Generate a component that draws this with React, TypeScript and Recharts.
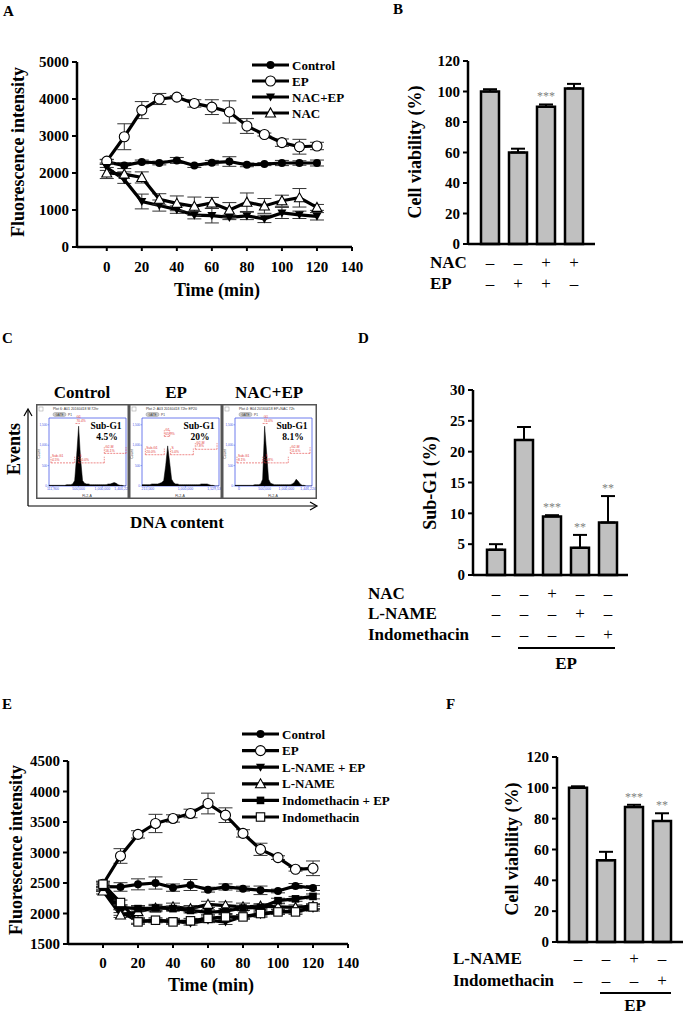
import React from 'react';
import {
  LineChart, Line, XAxis, YAxis, ErrorBar, BarChart, Bar, LabelList,
  AreaChart, Area, ReferenceLine, ReferenceArea,
} from 'recharts';

const SERIF = '"Liberation Serif", "Times New Roman", serif';

// ---------- A: fluorescence, NAC ----------
const timesA = [0, 10, 20, 30, 40, 50, 60, 70, 80, 90, 100, 110, 120];
const controlA = [2300, 2200, 2300, 2270, 2340, 2200, 2280, 2310, 2220, 2240, 2270, 2270, 2270];
const controlAErr = [60, 80, 50, 50, 80, 50, 60, 130, 50, 40, 70, 60, 80];
const epA = [2320, 2980, 3700, 4000, 4050, 3880, 3780, 3650, 3270, 3040, 2820, 2710, 2730];
const epAErr = [50, 350, 230, 150, 40, 100, 200, 300, 200, 40, 100, 200, 100];
const nacEpA = [2150, 1820, 1230, 1120, 1010, 860, 850, 800, 840, 760, 920, 870, 830];
const nacEpAErr = [80, 100, 200, 150, 100, 100, 200, 60, 100, 100, 150, 100, 100];
const nacA = [2000, 1970, 1880, 1290, 1180, 1100, 1190, 1000, 1210, 1110, 1250, 1330, 1070];
const nacAErr = [150, 60, 150, 150, 200, 250, 150, 200, 250, 200, 150, 250, 80];

// ---------- B: viability, NAC ----------
const viabB = [100, 60, 90, 102];
const viabBErr = [1.5, 2.5, 1.5, 3];
const sigB = ['', '', '***', ''];
const nacRowB = ['–', '–', '+', '+'];
const epRowB = ['–', '+', '+', '–'];

// ---------- C: cell-cycle histograms (relative counts per bin) ----------
const countsControl = [1, 1, 1, 1, 1, 1, 1, 1, 1, 2, 2, 2, 3, 8, 45, 88, 40, 8, 4, 3, 3, 2, 2, 2, 2, 2, 2, 2, 2, 2, 3, 3, 4, 5, 4, 2, 1, 1, 0, 0];
const countsEp = [2, 2, 2, 2, 2, 3, 3, 3, 3, 4, 5, 8, 30, 59, 35, 10, 5, 3, 3, 2, 2, 2, 2, 2, 2, 2, 2, 2, 2, 2, 3, 3, 3, 3, 2, 1, 1, 0, 0, 0];
const countsNacEp = [1, 1, 1, 1, 1, 1, 1, 1, 1, 1, 2, 2, 2, 3, 10, 88, 50, 10, 4, 3, 2, 2, 2, 2, 2, 2, 2, 2, 2, 3, 5, 10, 7, 3, 1, 1, 0, 0, 0, 0];
const gatesControl = [
  { name: 'Sub-G1', pct: '4.5%', x1: 1, x2: 13, y: 34 },
  { name: 'G1', pct: '70.4%', x1: 13.4, x2: 15.6, y: 92 },
  { name: 'S', pct: '10.0%', x1: 15, x2: 28, y: 34 },
  { name: 'G2-M', pct: '16.1%', x1: 28, x2: 39, y: 48 },
];
const gatesEp = [
  { name: 'Sub-G1', pct: '20.0%', x1: 1.7, x2: 11.3, y: 46 },
  { name: 'G1', pct: '65.9%', x1: 11.3, x2: 14, y: 73 },
  { name: 'S', pct: '5.0%', x1: 14.4, x2: 26, y: 46 },
  { name: 'G2-M', pct: '7.8%', x1: 27, x2: 38, y: 54 },
];
const gatesNacEp = [
  { name: 'Sub-G1', pct: '8.1%', x1: 1, x2: 14, y: 34 },
  { name: 'G1', pct: '74.0%', x1: 14, x2: 16.5, y: 92 },
  { name: 'S', pct: '4.8%', x1: 15, x2: 27, y: 34 },
  { name: 'G2-M', pct: '11.6%', x1: 28, x2: 38, y: 48 },
];
const facsTitles = ['Control', 'EP', 'NAC+EP'];
const facsSubG1 = ['4.5%', '20%', '8.1%'];
const facsHeaders = ['Plot 6: A01 20160418 M 72hr', 'Plot 2: A03 20160418 72hr EP20', 'Plot 4: B04 20160418 EP+NAC 72h'];
const facsTickPos = [[2, 15, 27, 37], [3, 22, 37], [2, 15, 26, 37]];
const facsTickLabels = [['111,900', '500,000', '1,000,000', '1,400,224'], ['215,000', '1,000,000', '1,529,536'], ['0', '500,000', '1,000,000', '1,446,224']];

// ---------- D: sub-G1 ----------
const subG1D = [4.1, 21.9, 9.5, 4.4, 8.5];
const subG1DErr = [0.9, 2.1, 0.2, 2.1, 4.3];
const sigD = ['', '', '***', '**', '**'];
const nacRowD = ['–', '–', '+', '–', '–'];
const lnameRowD = ['–', '–', '–', '+', '–'];
const indoRowD = ['–', '–', '–', '–', '+'];

// ---------- E: fluorescence, L-NAME / Indomethacin ----------
const timesE = [0, 10, 20, 30, 40, 50, 60, 70, 80, 90, 100, 110, 120];
const controlE = [2440, 2435, 2478, 2500, 2424, 2467, 2391, 2435, 2407, 2380, 2369, 2451, 2418];
const controlEErr = [60, 70, 90, 100, 60, 90, 40, 50, 40, 70, 30, 40, 40];
const epE = [2480, 2943, 3297, 3476, 3558, 3640, 3803, 3612, 3313, 3052, 2916, 2725, 2741];
const epEErr = [40, 120, 60, 150, 60, 70, 170, 120, 60, 100, 30, 30, 120];
const lnameEpE = [2400, 2020, 1880, 1880, 1880, 1840, 1890, 1860, 1950, 1980, 2030, 2040, 2080];
const lnameEpEErr = [40, 50, 40, 30, 40, 30, 40, 40, 30, 40, 40, 30, 40];
const lnameE = [2370, 1975, 2030, 2090, 2110, 2080, 2150, 2130, 2110, 2120, 2110, 2100, 2120];
const lnameEErr = [50, 40, 100, 60, 60, 50, 50, 60, 60, 40, 50, 40, 40];
const indoEpE = [2430, 2100, 2080, 2090, 2080, 2050, 2020, 2040, 2090, 2100, 2210, 2240, 2280];
const indoEpEErr = [40, 40, 40, 40, 40, 40, 40, 40, 40, 40, 40, 40, 40];
const indoE = [2480, 2180, 1862, 1890, 1862, 1880, 1920, 1944, 1944, 1999, 2026, 2026, 2108];
const indoEErr = [50, 40, 40, 40, 40, 40, 40, 40, 40, 40, 40, 40, 40];

// ---------- F: viability, L-NAME / Indomethacin ----------
const viabF = [100, 53, 87.5, 78.5];
const viabFErr = [1, 5.5, 1.5, 5];
const sigF = ['', '', '***', '**'];
const lnameRowF = ['–', '–', '+', '–'];
const indoRowF = ['–', '–', '–', '+'];

type Shape = 'circle' | 'openCircle' | 'triDown' | 'triUp' | 'square' | 'openSquare';

const seriesA: { key: string; name: string; shape: Shape }[] = [
  { key: 'control', name: 'Control', shape: 'circle' },
  { key: 'ep', name: 'EP', shape: 'openCircle' },
  { key: 'nacEp', name: 'NAC+EP', shape: 'triDown' },
  { key: 'nac', name: 'NAC', shape: 'triUp' },
];
const seriesE: { key: string; name: string; shape: Shape }[] = [
  { key: 'control', name: 'Control', shape: 'circle' },
  { key: 'ep', name: 'EP', shape: 'openCircle' },
  { key: 'lnameEp', name: 'L-NAME + EP', shape: 'triDown' },
  { key: 'lname', name: 'L-NAME', shape: 'triUp' },
  { key: 'indoEp', name: 'Indomethacin + EP', shape: 'square' },
  { key: 'indo', name: 'Indomethacin', shape: 'openSquare' },
];

const rowsA = timesA.map((t, i) => ({
  t,
  control: controlA[i], controlErr: controlAErr[i],
  ep: epA[i], epErr: epAErr[i],
  nacEp: nacEpA[i], nacEpErr: nacEpAErr[i],
  nac: nacA[i], nacErr: nacAErr[i],
}));
const rowsE = timesE.map((t, i) => ({
  t,
  control: controlE[i], controlErr: controlEErr[i],
  ep: epE[i], epErr: epEErr[i],
  lnameEp: lnameEpE[i], lnameEpErr: lnameEpEErr[i],
  lname: lnameE[i], lnameErr: lnameEErr[i],
  indoEp: indoEpE[i], indoEpErr: indoEpEErr[i],
  indo: indoE[i], indoErr: indoEErr[i],
}));
const rowsB = viabB.map((v, i) => ({ k: `b${i}`, v, e: [0, viabBErr[i]], sig: sigB[i] }));
const rowsD = subG1D.map((v, i) => ({ k: `d${i}`, v, e: [0, subG1DErr[i]], sig: sigD[i] }));
const rowsF = viabF.map((v, i) => ({ k: `f${i}`, v, e: [0, viabFErr[i]], sig: sigF[i] }));

const axisLine = { stroke: '#000', strokeWidth: 2.5 };
const tickLine = { stroke: '#000', strokeWidth: 2 };
const tickFont = { fill: '#000', fontSize: 15, fontWeight: 700, fontFamily: SERIF };

function Marker({ shape, cx, cy }: { shape: Shape; cx: number; cy: number }) {
  switch (shape) {
    case 'circle':
      return <circle cx={cx} cy={cy} r={4} fill="#000" />;
    case 'openCircle':
      return <circle cx={cx} cy={cy} r={5} fill="#fff" stroke="#000" strokeWidth={1.1} />;
    case 'triDown':
      return <polygon points={`${cx - 4.5},${cy - 3.5} ${cx + 4.5},${cy - 3.5} ${cx},${cy + 4.5}`} fill="#000" />;
    case 'triUp':
      return <polygon points={`${cx - 5},${cy + 4} ${cx + 5},${cy + 4} ${cx},${cy - 5}`} fill="#fff" stroke="#000" strokeWidth={1.1} />;
    case 'square':
      return <rect x={cx - 3.8} y={cy - 3.8} width={7.6} height={7.6} fill="#000" />;
    default:
      return <rect x={cx - 4.2} y={cy - 4.2} width={8.4} height={8.4} fill="#fff" stroke="#000" strokeWidth={1.1} />;
  }
}

function Txt({ x, y, children, size = 17, weight = 700, anchor = 'middle', rotate = false, fill = '#000' }: any) {
  return (
    <text
      x={x} y={y} fontSize={size} fontWeight={weight} fontFamily={SERIF} fill={fill}
      textAnchor={anchor} dominantBaseline="central"
      transform={rotate ? `rotate(-90 ${x} ${y})` : undefined}
    >
      {children}
    </text>
  );
}

function LineLegend({ x, y, gap, series }: { x: number; y: number; gap: number; series: { name: string; shape: Shape }[] }) {
  return (
    <g>
      {series.map((s, i) => (
        <g key={s.name}>
          <line x1={x} x2={x + 37} y1={y + i * gap} y2={y + i * gap} stroke="#000" strokeWidth={3.2} />
          <Marker shape={s.shape} cx={x + 18.5} cy={y + i * gap} />
          <Txt x={x + 40} y={y + i * gap} size={13} anchor="start">{s.name}</Txt>
        </g>
      ))}
    </g>
  );
}

function TimeCourse({ rows, series, yDomain, yTicks, width, height, margin, xDomain, tickMargin }: any) {
  return (
    <LineChart width={width} height={height} data={rows} margin={margin}>
      <XAxis
        dataKey="t" type="number" domain={xDomain} allowDataOverflow
        ticks={[0, 20, 40, 60, 80, 100, 120, 140]} interval={0}
        axisLine={axisLine} tickLine={tickLine} tickSize={4} tickMargin={tickMargin}
        tick={tickFont} height={45}
      />
      <YAxis
        domain={yDomain} ticks={yTicks} interval={0} allowDataOverflow
        axisLine={axisLine} tickLine={tickLine} tickSize={5} tickMargin={3}
        tick={tickFont} width={50}
      />
      {series.map((s: any) => (
        <Line
          key={s.key} dataKey={s.key} type="linear" stroke="#000" strokeWidth={3.2}
          isAnimationActive={false}
          dot={(p: any) => <Marker key={`${s.key}-${p.index}`} shape={s.shape} cx={p.cx} cy={p.cy} />}
        >
          <ErrorBar dataKey={`${s.key}Err`} width={7} strokeWidth={1} stroke="#333" direction="y" />
        </Line>
      ))}
    </LineChart>
  );
}

function makeStars(vals: number[], errs: number[]) {
  return (props: any) => {
    const { x, y, width, height, index, value } = props;
    if (!value) return null;
    const pxPerUnit = height / vals[index];
    const top = y - errs[index] * pxPerUnit;
    return (
      <text x={x + width / 2} y={top - 4} textAnchor="middle" fontSize={12} fill="#808080" fontFamily={SERIF}>
        {value}
      </text>
    );
  };
}

function makeTreatmentTick(rowsSyms: string[][], offsets: number[], group?: any) {
  return (props: any) => {
    const { x, y, index } = props;
    const els: any[] = [];
    rowsSyms.forEach((syms, r) => {
      els.push(
        <text key={`r${r}`} x={x} y={y + offsets[r]} textAnchor="middle" dominantBaseline="central"
          fontSize={17} fontFamily={SERIF} fill="#000">{syms[index]}</text>
      );
    });
    if (group && index >= group.from && index <= group.to) {
      const x1 = index === group.from ? x - group.startTrim : x - 14;
      const x2 = index === group.to ? x + group.endTrim : x + 14;
      els.push(<line key="gl" x1={x1} x2={x2} y1={y + group.lineDy} y2={y + group.lineDy} stroke="#000" strokeWidth={2} />);
      if (index === group.labelIndex) {
        els.push(
          <text key="gt" x={x + group.labelShift} y={y + group.labelDy} textAnchor="middle" dominantBaseline="central"
            fontSize={17} fontWeight={700} fontFamily={SERIF} fill="#000">EP</text>
        );
      }
    }
    return <g>{els}</g>;
  };
}

function BarPanel({ rows, vals, errs, width, height, margin, yDomain, yTicks, xHeight, padding, tick }: any) {
  return (
    <BarChart width={width} height={height} data={rows} margin={margin} barSize={18}>
      <XAxis
        dataKey="k" interval={0} axisLine={axisLine} tickLine={false} tickSize={0} tickMargin={0}
        height={xHeight} padding={padding} tick={tick}
      />
      <YAxis
        domain={yDomain} ticks={yTicks} interval={0} axisLine={axisLine} tickLine={tickLine}
        tickSize={5} tickMargin={3} tick={tickFont} width={36}
      />
      <Bar dataKey="v" fill="#c0c0c0" stroke="#000" strokeWidth={2.5} isAnimationActive={false}>
        <ErrorBar dataKey="e" width={7} strokeWidth={2} stroke="#000" direction="y" />
        <LabelList dataKey="sig" content={makeStars(vals, errs)} />
      </Bar>
    </BarChart>
  );
}

function FacsBox({ idx, left, width, counts, gates }: any) {
  const top = 404;
  const height = 95;
  const data = counts.map((c: number, b: number) => ({ b, c }));
  const tickPos = facsTickPos[idx];
  const tickLabels = facsTickLabels[idx];
  const blue = '#4a5ae8';
  const red = '#e23a3a';
  return (
    <div style={{ position: 'absolute', left, top, width, height, background: '#fff' }}>
      <AreaChart width={width} height={height} data={data} margin={{ top: 14, left: 7, right: width - 90, bottom: 7 }}>
        <XAxis
          dataKey="b" type="number" domain={[0, 39]} ticks={tickPos} interval={0}
          tickFormatter={(v: number) => tickLabels[tickPos.indexOf(v)]}
          axisLine={false} tickLine={{ stroke: blue, strokeWidth: 0.5 }} tickSize={1.5} tickMargin={0.5}
          tick={{ fontSize: 3.5, fill: blue, fontFamily: 'Arial, sans-serif' }} height={6}
        />
        <YAxis
          domain={[0, 100]} ticks={[0, 30, 60, 90]} interval={0} allowDataOverflow
          tickFormatter={(v: number) => ['0', '500', '1,000', '1,500'][[0, 30, 60, 90].indexOf(v)]}
          axisLine={false} tickLine={{ stroke: blue, strokeWidth: 0.5 }} tickSize={1.5} tickMargin={0.5}
          tick={{ fontSize: 3, fill: blue, fontFamily: 'Arial, sans-serif' }} width={6}
        />
        <ReferenceArea x1={0} x2={39} y1={0} y2={100} fill="none" stroke={blue} strokeWidth={0.8} ifOverflow="visible" />
        <Area dataKey="c" type="linear" stroke="#000" strokeWidth={0.5} fill="#000" fillOpacity={1} isAnimationActive={false} dot={false} />
        {gates.map((g: any) => (
          <ReferenceLine
            key={g.name}
            segment={[{ x: g.x1, y: g.y }, { x: g.x2, y: g.y }]}
            stroke={red} strokeWidth={0.6} strokeDasharray="2 1"
            label={(lp: any) => (
              <g>
                <text x={lp.viewBox.x + 1} y={lp.viewBox.y - 5.6} fontSize={3.3} fill={red} fontFamily="Arial, sans-serif">{g.name}</text>
                <text x={lp.viewBox.x + 1} y={lp.viewBox.y - 1.8} fontSize={3.3} fill={red} fontFamily="Arial, sans-serif">{g.pct}</text>
              </g>
            )}
          />
        ))}
        {gates.map((g: any) => (
          <ReferenceLine key={`${g.name}-a`} segment={[{ x: g.x1, y: g.y }, { x: g.x1, y: g.y + 9 }]} stroke={red} strokeWidth={0.6} strokeDasharray="1.5 1" />
        ))}
        {gates.map((g: any) => (
          <ReferenceLine key={`${g.name}-b`} segment={[{ x: g.x2, y: g.y }, { x: g.x2, y: g.y + 9 }]} stroke={red} strokeWidth={0.6} strokeDasharray="1.5 1" />
        ))}
      </AreaChart>
      <svg width={width} height={height} style={{ position: 'absolute', left: 0, top: 0, pointerEvents: 'none' }}>
        <rect x={0.75} y={0.75} width={width - 1.5} height={height - 1.5} fill="none" stroke="#555" strokeWidth={1.5} />
        <rect x={3} y={3} width={4} height={4} fill="#fff" stroke="#999" strokeWidth={0.5} />
        <text x={17} y={6} fontSize={3.5} fill="#333" fontFamily="Arial, sans-serif">{facsHeaders[idx]}</text>
        <rect x={17} y={8.5} width={13} height={4} rx={2} fill="#ccc" stroke="#888" strokeWidth={0.4} />
        <text x={23.5} y={11.7} fontSize={3} fill="#333" textAnchor="middle" fontFamily="Arial, sans-serif">GATE</text>
        <text x={32} y={11.7} fontSize={3.2} fill="#333" fontFamily="Arial, sans-serif">P1</text>
        <text x={4} y={50} fontSize={3.5} fill="#333" textAnchor="middle" transform="rotate(-90 4 50)" fontFamily="Arial, sans-serif">Count</text>
        <text x={51} y={93} fontSize={3.5} fill="#333" textAnchor="middle" fontFamily="Arial, sans-serif">FL2-A</text>
        <Txt x={70} y={22} size={9.5}>Sub-G1</Txt>
        <Txt x={71} y={33} size={9.5}>{facsSubG1[idx]}</Txt>
      </svg>
    </div>
  );
}

export default function App() {
  return (
    <div style={{ position: 'absolute', left: 0, top: 0, width: 685, height: 1015, background: '#fff', overflow: 'hidden' }}>
      {/* A */}
      <div style={{ position: 'absolute', left: 0, top: 0 }}>
        <TimeCourse
          rows={rowsA} series={seriesA} yDomain={[0, 5000]} yTicks={[0, 1000, 2000, 3000, 4000, 5000]}
          width={380} height={300} margin={{ top: 62, right: 28, left: 27, bottom: 8 }} xDomain={[-17, 140]} tickMargin={10}
        />
      </div>
      {/* B */}
      <div style={{ position: 'absolute', left: 340, top: 0 }}>
        <BarPanel
          rows={rowsB} vals={viabB} errs={viabBErr} width={345} height={300}
          margin={{ top: 61, right: 90, left: 92, bottom: 6 }} yDomain={[0, 120]} yTicks={[0, 20, 40, 60, 80, 100, 120]}
          xHeight={50} padding={{ left: 8, right: 7 }}
          tick={makeTreatmentTick([nacRowB, epRowB], [18, 39])}
        />
      </div>
      {/* C */}
      {[countsControl, countsEp, countsNacEp].map((counts, i) => (
        <FacsBox
          key={i} idx={i} left={[36, 129, 222][i]} width={[93, 93, 95][i]}
          counts={counts} gates={[gatesControl, gatesEp, gatesNacEp][i]}
        />
      ))}
      {/* D */}
      <div style={{ position: 'absolute', left: 340, top: 320 }}>
        <BarPanel
          rows={rowsD} vals={subG1D} errs={subG1DErr} width={345} height={380}
          margin={{ top: 70, right: 57, left: 97, bottom: 15 }} yDomain={[0, 30]} yTicks={[0, 5, 10, 15, 20, 25, 30]}
          xHeight={110} padding={{ left: 9, right: 6 }}
          tick={makeTreatmentTick([nacRowD, lnameRowD, indoRowD], [18, 38, 59],
            { from: 1, to: 4, startTrim: 6, endTrim: 7, lineDy: 73, labelDy: 88, labelIndex: 2, labelShift: 14 })}
        />
      </div>
      {/* E */}
      <div style={{ position: 'absolute', left: 0, top: 700 }}>
        <TimeCourse
          rows={rowsE} series={seriesE} yDomain={[1500, 4500]} yTicks={[1500, 2000, 2500, 3000, 3500, 4000, 4500]}
          width={380} height={315} margin={{ top: 61, right: 32, left: 18, bottom: 26 }} xDomain={[-20, 140]} tickMargin={9}
        />
      </div>
      {/* F */}
      <div style={{ position: 'absolute', left: 340, top: 700 }}>
        <BarPanel
          rows={rowsF} vals={viabF} errs={viabFErr} width={345} height={315}
          margin={{ top: 57, right: 2, left: 181, bottom: 3 }} yDomain={[0, 120]} yTicks={[0, 20, 40, 60, 80, 100, 120]}
          xHeight={70} padding={{ left: 7, right: 7 }}
          tick={makeTreatmentTick([lnameRowF, indoRowF], [16, 38],
            { from: 1, to: 3, startTrim: 6, endTrim: 9, lineDy: 51, labelDy: 63, labelIndex: 2, labelShift: 1 })}
        />
      </div>

      <svg width={685} height={1015} style={{ position: 'absolute', left: 0, top: 0, pointerEvents: 'none' }}>
        {/* panel letters */}
        <Txt x={3} y={11} size={15} anchor="start">A</Txt>
        <Txt x={393} y={9} size={15} anchor="start">B</Txt>
        <Txt x={2} y={338} size={15} anchor="start">C</Txt>
        <Txt x={358} y={338} size={15} anchor="start">D</Txt>
        <Txt x={2} y={704} size={15} anchor="start">E</Txt>
        <Txt x={446} y={704} size={15} anchor="start">F</Txt>

        {/* A */}
        <Txt x={18} y={152} size={18} rotate>Fluorescence intensity</Txt>
        <Txt x={217} y={290} size={18}>Time (min)</Txt>
        <LineLegend x={252} y={65} gap={16} series={seriesA} />

        {/* B */}
        <Txt x={415} y={152} size={18} rotate>Cell viability (%)</Txt>
        <Txt x={430} y={262} anchor="start">NAC</Txt>
        <Txt x={430} y={283} anchor="start">EP</Txt>

        {/* C */}
        {facsTitles.map((t, i) => (
          <Txt key={t} x={[82, 176, 269][i]} y={392}>{t}</Txt>
        ))}
        <line x1={28} x2={28} y1={506} y2={410} stroke="#000" strokeWidth={1.2} />
        <polyline points="24,416 28,409 32,416" fill="none" stroke="#000" strokeWidth={1.2} />
        <line x1={28} x2={316} y1={506} y2={506} stroke="#000" strokeWidth={1.2} />
        <polyline points="310,502 317,506 310,510" fill="none" stroke="#000" strokeWidth={1.2} />
        <Txt x={14} y={449} size={18} rotate>Events</Txt>
        <Txt x={177} y={522} size={17}>DNA content</Txt>

        {/* D */}
        <Txt x={430} y={483} size={18} rotate>Sub-G1 (%)</Txt>
        <Txt x={368} y={593} anchor="start">NAC</Txt>
        <Txt x={368} y={613} anchor="start">L-NAME</Txt>
        <Txt x={368} y={634} anchor="start">Indomethacin</Txt>

        {/* E */}
        <Txt x={16} y={850} size={18} rotate>Fluorescence intensity</Txt>
        <Txt x={211} y={985} size={18}>Time (min)</Txt>
        <LineLegend x={242} y={734} gap={16.6} series={seriesE} />

        {/* F */}
        <Txt x={512} y={849} size={18} rotate>Cell viability (%)</Txt>
        <Txt x={453} y={958} anchor="start">L-NAME</Txt>
        <Txt x={453} y={980} anchor="start">Indomethacin</Txt>
      </svg>
    </div>
  );
}
